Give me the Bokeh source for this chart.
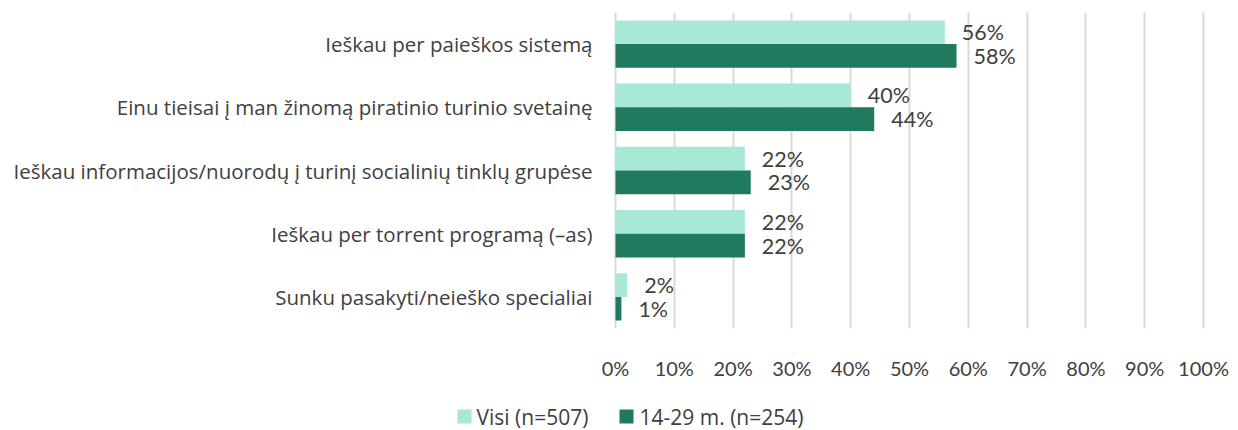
from bokeh.plotting import figure
from bokeh.layouts import column
from bokeh.models import ColumnDataSource, FactorRange, Range1d, FixedTicker, LabelSet, CustomJSTickFormatter
from bokeh.core.properties import value
from bokeh.transform import dodge
from bokeh.embed import file_html
from bokeh.resources import INLINE

categories = [
    "Ieškau per paieškos sistemą",
    "Einu tieisai į man žinomą piratinio turinio svetainę",
    "Ieškau informacijos/nuorodų į turinį socialinių tinklų grupėse",
    "Ieškau per torrent programą (–as)",
    "Sunku pasakyti/neieško specialiai",
]
visi = [56, 40, 22, 22, 2]
jauni = [58, 44, 23, 22, 1]
series_names = ["Visi (n=507)", "14-29 m. (n=254)"]
colors = ["#A8E8D6", "#1F7A5F"]
CAT_FONT = "Open Sans"
NUM_FONT = "Lato"
TXT = "#404040"

# layout (pixels)
W = 1230
X0_PX, X100_PX = 615, 1203
PX_PER_UNIT = (X100_PX - X0_PX) / 100.0

src = ColumnDataSource(dict(
    cat=categories,
    zero=[0] * len(categories),
    visi=visi,
    jauni=jauni,
    visi_lbl=[f"{v}%" for v in visi],
    jauni_lbl=[f"{v}%" for v in jauni],
))

p = figure(width=W, height=382, output_backend="svg", toolbar_location=None,
           y_range=FactorRange(factors=list(reversed(categories)), range_padding=0),
           x_range=Range1d(-X0_PX / PX_PER_UNIT, (W - X0_PX) / PX_PER_UNIT),
           y_axis_location=None,
           min_border_left=0, min_border_right=0, min_border_top=12, min_border_bottom=45)
p.outline_line_color = None

r1 = p.hbar(y=dodge("cat", 0.1875, range=p.y_range), right="visi", left=0, height=0.375,
            source=src, fill_color=colors[0], line_color=None)
r2 = p.hbar(y=dodge("cat", -0.1875, range=p.y_range), right="jauni", left=0, height=0.375,
            source=src, fill_color=colors[1], line_color=None)

# category labels
p.text(x="zero", y="cat", text="cat", source=src, x_offset=-23,
       text_align="right", text_baseline="middle",
       text_font=value(CAT_FONT), text_font_size="20.5px", text_color=TXT)

for col, lbl, off in [("visi", "visi_lbl", 0.1875), ("jauni", "jauni_lbl", -0.1875)]:
    ls = LabelSet(x=col, y=dodge("cat", off, range=p.y_range), text=lbl, source=src,
                  x_offset=17, text_align="left", text_baseline="middle",
                  text_font=value(NUM_FONT), text_font_size="21.5px", text_color=TXT)
    p.add_layout(ls)

p.xaxis.ticker = FixedTicker(ticks=list(range(0, 101, 10)))
p.xaxis.formatter = CustomJSTickFormatter(code="return tick + '%';")
p.xaxis.axis_line_color = None
p.xaxis.major_tick_line_color = None
p.xaxis.minor_tick_line_color = None
p.xaxis.major_label_text_font = NUM_FONT
p.xaxis.major_label_text_font_size = "20px"
p.xaxis.major_label_text_color = TXT
p.xaxis.major_label_standoff = 21

p.ygrid.grid_line_color = None
p.xgrid.grid_line_color = "#D9D9D9"
p.xgrid.grid_line_width = 2

# legend strip (data units == screen pixels)
LH = 48
lf = figure(width=W, height=LH, output_backend="svg", toolbar_location=None,
            x_range=Range1d(0, W), y_range=Range1d(0, LH),
            min_border=0, x_axis_location=None, y_axis_location=None)
lf.outline_line_color = None
lf.grid.grid_line_color = None
leg_src = ColumnDataSource(dict(
    sx=[464, 626], tx=[476, 639], y=[14, 14],
    color=colors, label=series_names,
))
lf.scatter(x="sx", y="y", marker="square", size=14, fill_color="color",
           line_color=None, source=leg_src)
lf.text(x="tx", y="y", text="label", source=leg_src, text_baseline="middle",
        text_align="left", text_font=value(CAT_FONT), text_font_size="21px",
        text_color=TXT)

open("out.html", "w").write(file_html(column(p, lf), INLINE))
